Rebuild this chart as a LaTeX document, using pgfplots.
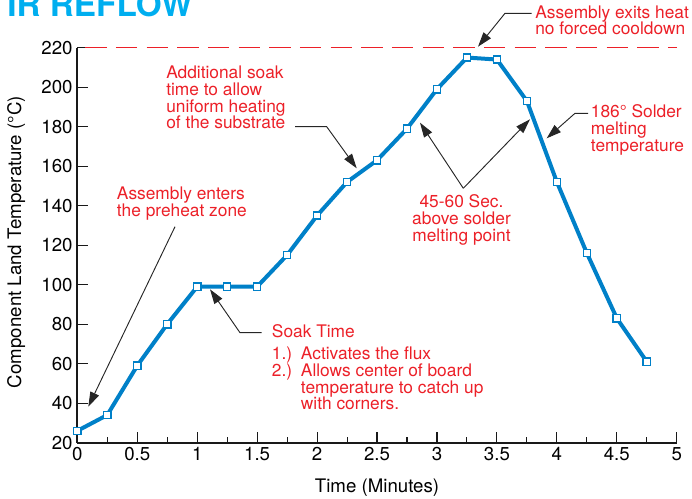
\documentclass[border=0pt]{standalone}
\usepackage{fontspec}
\setmainfont{TeX Gyre Heros}
\usepackage{pgfplots}
\pgfplotsset{compat=1.18}
\usetikzlibrary{arrows.meta}

\definecolor{curveblue}{RGB}{0,128,200}
\definecolor{notered}{RGB}{236,32,40}
\definecolor{titleblue}{RGB}{0,174,239}

\tikzset{
  note/.style={text=notered, font=\fontsize{13}{12.7}\selectfont, align=left, inner sep=0pt},
  pointer/.style={black!85, line width=0.7pt, -{Triangle[length=11pt,width=7pt]}},
}

\begin{document}
\begin{tikzpicture}
\begin{axis}[
  scale only axis,
  width=449.6pt, height=296.25pt,
  xmin=0, xmax=5, ymin=20, ymax=220,
  axis x line*=bottom, axis y line*=left,
  axis line style={-, line width=1.5pt, black!90},
  xtick={0,0.5,1,1.5,2,2.5,3,3.5,4,4.5,5},
  ytick={20,40,...,220},
  minor x tick num=1,
  tick align=inside,
  major tick length=8pt, minor tick length=4pt,
  every tick/.style={black!90, line width=0.8pt},
  tick label style={font=\fontsize{14}{16}\selectfont},
  /pgf/number format/assume math mode=true,
  xlabel={Time (Minutes)},
  ylabel={Component Land Temperature (°C)},
  label style={font=\fontsize{14}{16}\selectfont},
  xlabel style={at={(axis description cs:0.5,-0.115)}, anchor=center},
  ylabel style={at={(axis description cs:-0.102,0.508)}, anchor=center},
  clip=false,
]
% 220 reference line
\addplot[notered, line width=0.9pt, dash pattern=on 16pt off 7pt, dash phase=-6pt] coordinates {(0,220) (5,220)};
% reflow profile
\addplot[curveblue, line width=3pt, mark=square*, mark size=2.7pt,
  mark options={fill=white, draw=curveblue, line width=1.1pt}] coordinates {
  (0,26) (0.25,34) (0.5,59) (0.75,80) (1,99) (1.25,99) (1.5,99) (1.75,115)
  (2,135) (2.25,152) (2.5,163) (2.75,179) (3,199) (3.25,215) (3.5,214)
  (3.75,193) (4,152) (4.25,116) (4.5,83) (4.75,61)
};
\end{axis}

% annotations, in pixel units of the reference (origin top left);
% multi-line nodes are anchored at the baseline of their last line
\begin{scope}[x=0.75pt, y=-0.75pt, shift={(-57.975pt,332.025pt)}]
  \node[anchor=base west, inner sep=0pt, text=titleblue,
        font=\fontsize{25}{30}\selectfont\bfseries] at (7,16.7) {IR REFLOW};

  \node[note, anchor=base west] at (535,35) {Assembly exits heat\\no forced cooldown};
  \draw[pointer] (531.7,13.3) -- (505,13.3) -- (478,46.7);

  \node[note, anchor=base west] at (166,129) {Additional soak\\time to allow\\uniform heating\\of the substrate};
  \draw[pointer] (295,126.7) -- (326.7,126.7) -- (356.7,168.3);

  \node[note, anchor=base west] at (116.7,216.7) {Assembly enters\\the preheat zone};
  \draw[pointer] (175,226.7) -- (88.3,406.7);

  \node[note, anchor=base west] at (271.7,338) {Soak Time};
  \node[note, anchor=base west] at (271.7,360) {1.)};
  \node[note, anchor=base west] at (300.7,360) {Activates the flux};
  \node[note, anchor=base west] at (271.7,376.7) {2.)};
  \node[note, anchor=base west] at (300.7,410) {Allows center of board\\temperature to catch up\\with corners.};
  \draw[pointer] (261.7,332.7) -- (240,332.7) -- (210,289.3);

  \node[note, align=center, anchor=base] at (461.5,241.8) {45-60 Sec.\\above solder\\melting point};
  \draw[pointer] (463.3,188.3) -- (420,122.7);
  \draw[pointer] (463.3,188.3) -- (530,119.3);

  \node[note, anchor=base west] at (590.7,151.7) {186° Solder\\melting\\temperature};
  \draw[pointer] (588,113.3) -- (575,113.3) -- (546.7,138.3);

  \pgfresetboundingbox
  \path[use as bounding box] (0,0) rectangle (692,499);
\end{scope}
\end{tikzpicture}
\end{document}
